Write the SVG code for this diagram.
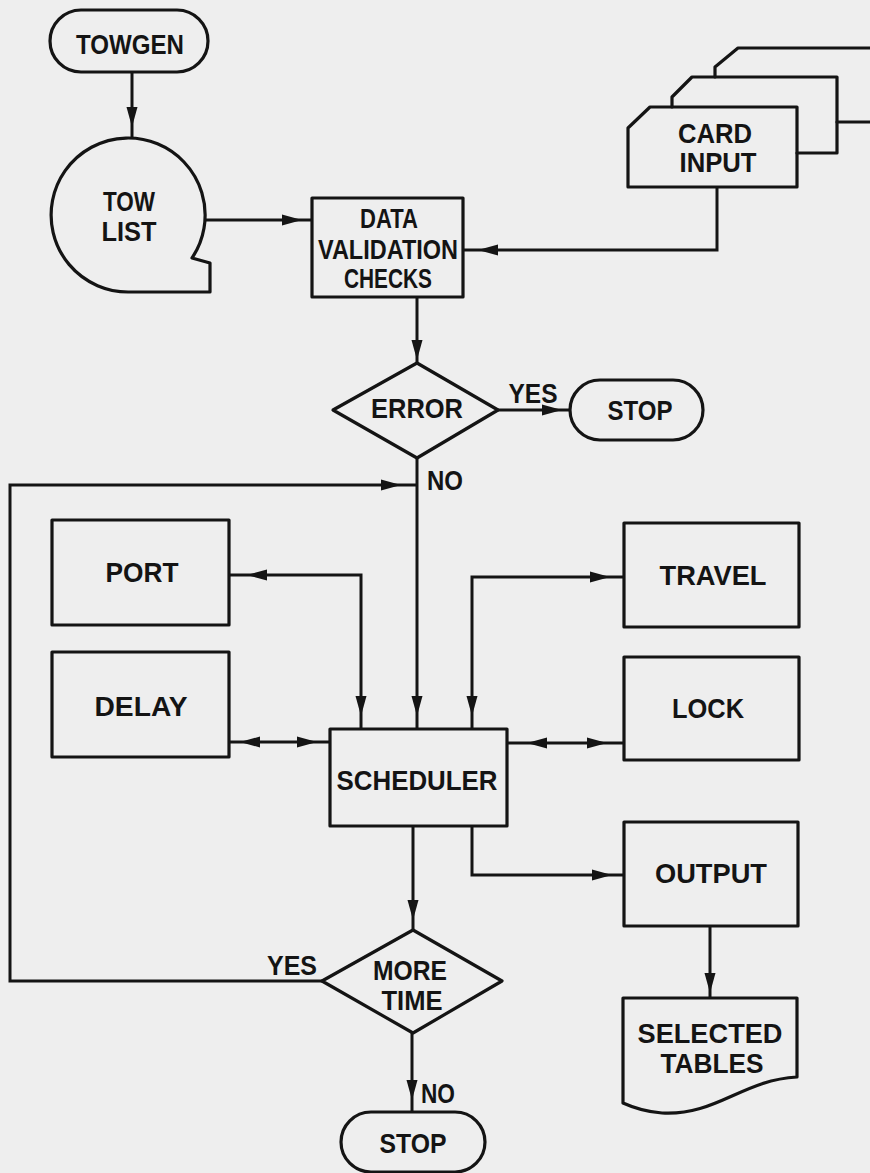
<svg xmlns="http://www.w3.org/2000/svg" xmlns:xlink="http://www.w3.org/1999/xlink" width="870" height="1173" viewBox="0 0 870 1173">
<style>
.s{fill:none;stroke:#141414;stroke-width:3.2;stroke-linejoin:round;stroke-linecap:round}
.c{fill:none;stroke:#141414;stroke-width:3}
.t{font-family:"Liberation Sans",Arial,sans-serif;font-size:28px;font-weight:bold;fill:#141414;text-anchor:middle}
.l{font-family:"Liberation Sans",Arial,sans-serif;font-size:27px;font-weight:bold;fill:#141414;text-anchor:middle}
.a{fill:#141414}
</style>
<defs>
<path id="ah" d="M0,0 L-20,-5.5 L-20,5.5 Z"/>
</defs>
<rect width="870" height="1173" fill="#eeeeee"/>

<g id="connectors">
<path class="c" d="M132,73 V138"/>
<use class="a" href="#ah" transform="translate(132,127) rotate(90)"/>
<path class="c" d="M205,220 H312"/>
<use class="a" href="#ah" transform="translate(302,220)"/>
<path class="c" d="M717,187 V250 H463"/>
<use class="a" href="#ah" transform="translate(478,250) rotate(180)"/>
<path class="c" d="M417,297 V363"/>
<use class="a" href="#ah" transform="translate(417,360) rotate(90)"/>
<path class="c" d="M498,410 H570"/>
<use class="a" href="#ah" transform="translate(562,410)"/>
<path class="c" d="M417,458 V729"/>
<use class="a" href="#ah" transform="translate(417,716) rotate(90)"/>
<path class="c" d="M322,981 H10 V485 H417"/>
<use class="a" href="#ah" transform="translate(401,485)"/>
<path class="c" d="M361,729 V575 H229"/>
<use class="a" href="#ah" transform="translate(247,575) rotate(180)"/>
<use class="a" href="#ah" transform="translate(361,716) rotate(90)"/>
<path class="c" d="M472,729 V577 H624"/>
<use class="a" href="#ah" transform="translate(610,577)"/>
<use class="a" href="#ah" transform="translate(472,716) rotate(90)"/>
<path class="c" d="M229,742 H330"/>
<use class="a" href="#ah" transform="translate(240,742) rotate(180)"/>
<use class="a" href="#ah" transform="translate(317,742)"/>
<path class="c" d="M507,743 H624"/>
<use class="a" href="#ah" transform="translate(527,743) rotate(180)"/>
<use class="a" href="#ah" transform="translate(607,743)"/>
<path class="c" d="M472,826 V875 H624"/>
<use class="a" href="#ah" transform="translate(612,875)"/>
<path class="c" d="M413,826 V930"/>
<use class="a" href="#ah" transform="translate(413,920) rotate(90)"/>
<path class="c" d="M710,926 V998"/>
<use class="a" href="#ah" transform="translate(710,993) rotate(90)"/>
<path class="c" d="M412,1033 V1112"/>
<use class="a" href="#ah" transform="translate(412,1100) rotate(90)"/>
</g>

<g id="towgen">
<rect class="s" x="50" y="10" width="158" height="62" rx="31"/>
<text class="t" x="130" y="54" textLength="108" lengthAdjust="spacingAndGlyphs">TOWGEN</text>
</g>

<g id="towlist">
<path class="s" d="M192,258 A77,77 0 1 0 129,292 H210 V263 Z"/>
<text class="t" x="129" y="211" textLength="52" lengthAdjust="spacingAndGlyphs">TOW</text>
<text class="t" x="129" y="241" textLength="55" lengthAdjust="spacingAndGlyphs">LIST</text>
</g>

<g id="data-validation">
<rect class="s" x="312" y="198" width="151" height="99"/>
<text class="t" x="389" y="228" textLength="58" lengthAdjust="spacingAndGlyphs">DATA</text>
<text class="t" x="388" y="259" textLength="140" lengthAdjust="spacingAndGlyphs">VALIDATION</text>
<text class="t" x="388" y="288" textLength="88" lengthAdjust="spacingAndGlyphs">CHECKS</text>
</g>

<g id="card-input">
<path class="s" d="M715,77 V67 L738,48 H872"/>
<path class="s" d="M837,122 H872"/>
<path class="s" d="M672,107 V97 L692,77 H837 V153 H797"/>
<path class="s" d="M628,128 L650,107 H797 V187 H628 Z"/>
<text class="t" x="715" y="143" textLength="74" lengthAdjust="spacingAndGlyphs">CARD</text>
<text class="t" x="718" y="172" textLength="77" lengthAdjust="spacingAndGlyphs">INPUT</text>
</g>

<g id="error">
<path class="s" d="M417,363 L498,410 L417,458 L333,410 Z"/>
<text class="t" x="417" y="418" textLength="92" lengthAdjust="spacingAndGlyphs">ERROR</text>
</g>
<text class="l" x="533" y="403" textLength="49" lengthAdjust="spacingAndGlyphs">YES</text>
<text class="l" x="445" y="490" textLength="36" lengthAdjust="spacingAndGlyphs">NO</text>

<g id="stop-top">
<rect class="s" x="570" y="380" width="133" height="60" rx="30"/>
<text class="t" x="640" y="420" textLength="65" lengthAdjust="spacingAndGlyphs">STOP</text>
</g>

<g id="port">
<rect class="s" x="52" y="520" width="177" height="105"/>
<text class="t" x="142" y="582" textLength="73" lengthAdjust="spacingAndGlyphs">PORT</text>
</g>

<g id="delay">
<rect class="s" x="52" y="652" width="177" height="105"/>
<text class="t" x="141" y="716" textLength="93" lengthAdjust="spacingAndGlyphs">DELAY</text>
</g>

<g id="travel">
<rect class="s" x="624" y="523" width="175" height="104"/>
<text class="t" x="713" y="585" textLength="107" lengthAdjust="spacingAndGlyphs">TRAVEL</text>
</g>

<g id="lock">
<rect class="s" x="624" y="657" width="175" height="103"/>
<text class="t" x="708" y="718" textLength="72" lengthAdjust="spacingAndGlyphs">LOCK</text>
</g>

<g id="scheduler">
<rect class="s" x="330" y="729" width="177" height="97"/>
<text class="t" x="417" y="790" textLength="161" lengthAdjust="spacingAndGlyphs">SCHEDULER</text>
</g>

<g id="output">
<rect class="s" x="624" y="822" width="174" height="104"/>
<text class="t" x="711" y="883" textLength="112" lengthAdjust="spacingAndGlyphs">OUTPUT</text>
</g>

<g id="more-time">
<path class="s" d="M413,930 L502,981 L413,1033 L322,981 Z"/>
<text class="t" x="410" y="980" textLength="74" lengthAdjust="spacingAndGlyphs">MORE</text>
<text class="t" x="412" y="1010" textLength="61" lengthAdjust="spacingAndGlyphs">TIME</text>
</g>
<text class="l" x="292" y="975" textLength="50" lengthAdjust="spacingAndGlyphs">YES</text>
<text class="l" x="438" y="1103" textLength="34" lengthAdjust="spacingAndGlyphs">NO</text>

<g id="selected-tables">
<path class="s" d="M623,998 H797 V1077 C742,1080 716,1116 662,1113 C648,1112 634,1108 623,1103 Z"/>
<text class="t" x="710" y="1043" textLength="145" lengthAdjust="spacingAndGlyphs">SELECTED</text>
<text class="t" x="712" y="1073" textLength="103" lengthAdjust="spacingAndGlyphs">TABLES</text>
</g>

<g id="stop-bottom">
<rect class="s" x="341" y="1112" width="144" height="60" rx="30"/>
<text class="t" x="413" y="1153" textLength="67" lengthAdjust="spacingAndGlyphs">STOP</text>
</g>
</svg>
